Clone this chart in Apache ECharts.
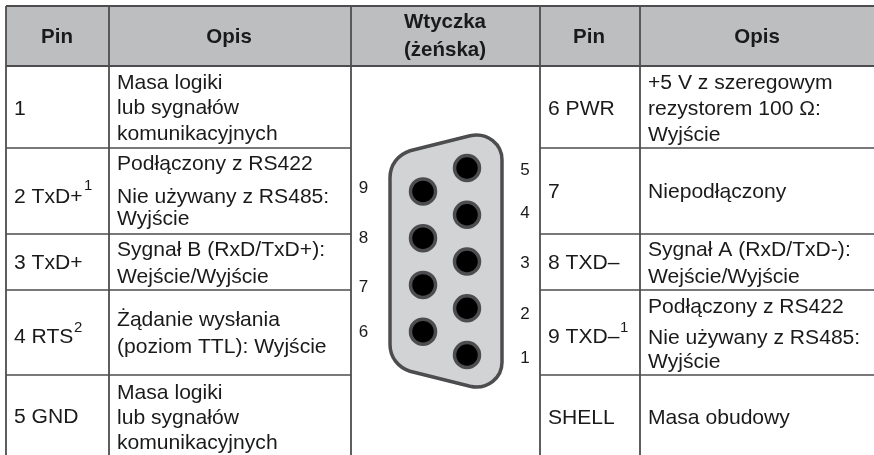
<!DOCTYPE html>
<html><head><meta charset="utf-8">
<style>html,body{margin:0;padding:0;background:#fff}#c{width:874px;height:455px}</style>
<script src="https://cdn.jsdelivr.net/npm/echarts@6/dist/echarts.min.js"></script>
</head><body><div id="c"></div>
<script>
// ---- data
var headers = ['Pin','Opis','Wtyczka','(żeńska)','Pin','Opis'];
var leftPins = ['1','2 TxD+','3 TxD+','4 RTS','5 GND'];
var rightPins = ['6 PWR','7','8 TXD–','9 TXD–','SHELL'];
var leftNotes = ['','1','','2',''];
var rightNotes = ['','','','1',''];
var leftDesc = [
  ['Masa logiki','lub sygnałów','komunikacyjnych'],
  ['Podłączony z RS422','Nie używany z RS485:','Wyjście'],
  ['Sygnał B (RxD/TxD+):','Wejście/Wyjście'],
  ['Żądanie wysłania','(poziom TTL): Wyjście'],
  ['Masa logiki','lub sygnałów','komunikacyjnych']
];
var rightDesc = [
  ['+5 V z szeregowym','rezystorem 100 Ω:','Wyjście'],
  ['Niepodłączony'],
  ['Sygnał A (RxD/TxD-):','Wejście/Wyjście'],
  ['Podłączony z RS422','Nie używany z RS485:','Wyjście'],
  ['Masa obudowy']
];
var pinNumbers = [1,2,3,4,5,6,7,8,9];
var pinColumn  = [1,1,1,1,1,0,0,0,0];
var pinRow     = [0,1,2,3,4,0.5,1.5,2.5,3.5];

// ---- layout
var LINE='#4d4d4f', TXT='#1a1a1a', FF='"Liberation Sans",Arial,sans-serif', FS=21.1;
var lx={leftEdge:6,c1:109,c2:351,c3:540,c4:640,rightEdge:874};
var topY=6, headY=66, rowsL=[148,234,290,375], bottomY=455;
var leftLineY=[[83,108,134],[164,197,219],[250,277],[320,347],[393,418,443]];
var rightLineY=[[83,109,135],[192],[250,277],[307,338,362],[418]];
var leftPinY=[109,197,263,337,417], rightPinY=[109,192,263,337,418];
var noteLeftX=[0,84,0,74,0], noteRightX=[0,0,0,620,0];
var noteLeftY=[0,186,0,328,0], noteRightY=[0,0,0,328,0];
var numY=[358,314,263,213,170,332,287,238,188];
var gr=[];
function T(s,x,y,o){o=o||{};gr.push({type:'text',z:5,x:x,y:y,style:{text:s,fill:TXT,font:(o.b?'bold ':'')+(o.s||FS)+'px '+FF,align:o.a||'left',verticalAlign:'middle'}});}
function L(x1,y1,x2,y2,w){gr.push({type:'line',z:3,shape:{x1:x1,y1:y1,x2:x2,y2:y2},style:{stroke:LINE,lineWidth:w||1.8}});}
gr.push({type:'rect',z:1,shape:{x:lx.leftEdge,y:topY,width:lx.rightEdge-lx.leftEdge,height:headY-topY},style:{fill:'#bcbec0'}});
L(lx.leftEdge,topY,lx.rightEdge,topY,2);L(lx.leftEdge,headY,lx.rightEdge,headY,2);
[lx.leftEdge,lx.c1,lx.c2,lx.c3,lx.c4].forEach(function(x){L(x,topY,x,bottomY);});
rowsL.forEach(function(y){L(lx.leftEdge,y,lx.c2,y,1.4);L(lx.c3,y,lx.rightEdge,y,1.4);});
// header
var hx=[57,229,445,445,589,757], hy=[37,37,22,50,37,37];
headers.forEach(function(h,i){T(h,hx[i],hy[i],{b:1,a:'center',s:20.5});});
// rows
leftPins.forEach(function(p,i){
  T(p,14,leftPinY[i]);
  if(leftNotes[i])T(leftNotes[i],noteLeftX[i],noteLeftY[i],{s:15});
  leftDesc[i].forEach(function(t,j){T(t,117,leftLineY[i][j]);});
});
rightPins.forEach(function(p,i){
  T(p,548,rightPinY[i]);
  if(rightNotes[i])T(rightNotes[i],noteRightX[i],noteRightY[i],{s:15});
  rightDesc[i].forEach(function(t,j){T(t,648,rightLineY[i][j]);});
});
pinNumbers.forEach(function(n,i){T(String(n),pinColumn[i]?525:363.5,numY[i],{s:17,a:'center'});});

var shellPath='M390 178C390 165 398 155 410 151L470 136C488 132 502 145 502 160L502 362C502 377 488 390 470 386L410 371C398 367 390 357 390 344Z';

var chart=echarts.init(document.getElementById('c'),null,{renderer:'canvas'});
chart.setOption({
  animation:false,
  graphic:gr,
  grid:{left:423,width:44,top:168,height:187},
  xAxis:{type:'value',min:0,max:1,show:false},
  yAxis:{type:'value',min:0,max:4,show:false},
  series:[
   {type:'custom',z:2,silent:true,coordinateSystem:'none',data:[[0]],
    renderItem:function(){return {type:'path',
      shape:{pathData:shellPath,layout:'cover',x:390,y:135,width:112,height:252},
      style:{fill:'#d1d3d4',stroke:LINE,lineWidth:3.5}};}},
   {type:'scatter',z:10,symbolSize:25,silent:true,
    itemStyle:{color:'#000',borderColor:LINE,borderWidth:3.5,opacity:1},
    data:pinNumbers.map(function(n,i){return [pinColumn[i],pinRow[i]];})}]
});
</script></body></html>
